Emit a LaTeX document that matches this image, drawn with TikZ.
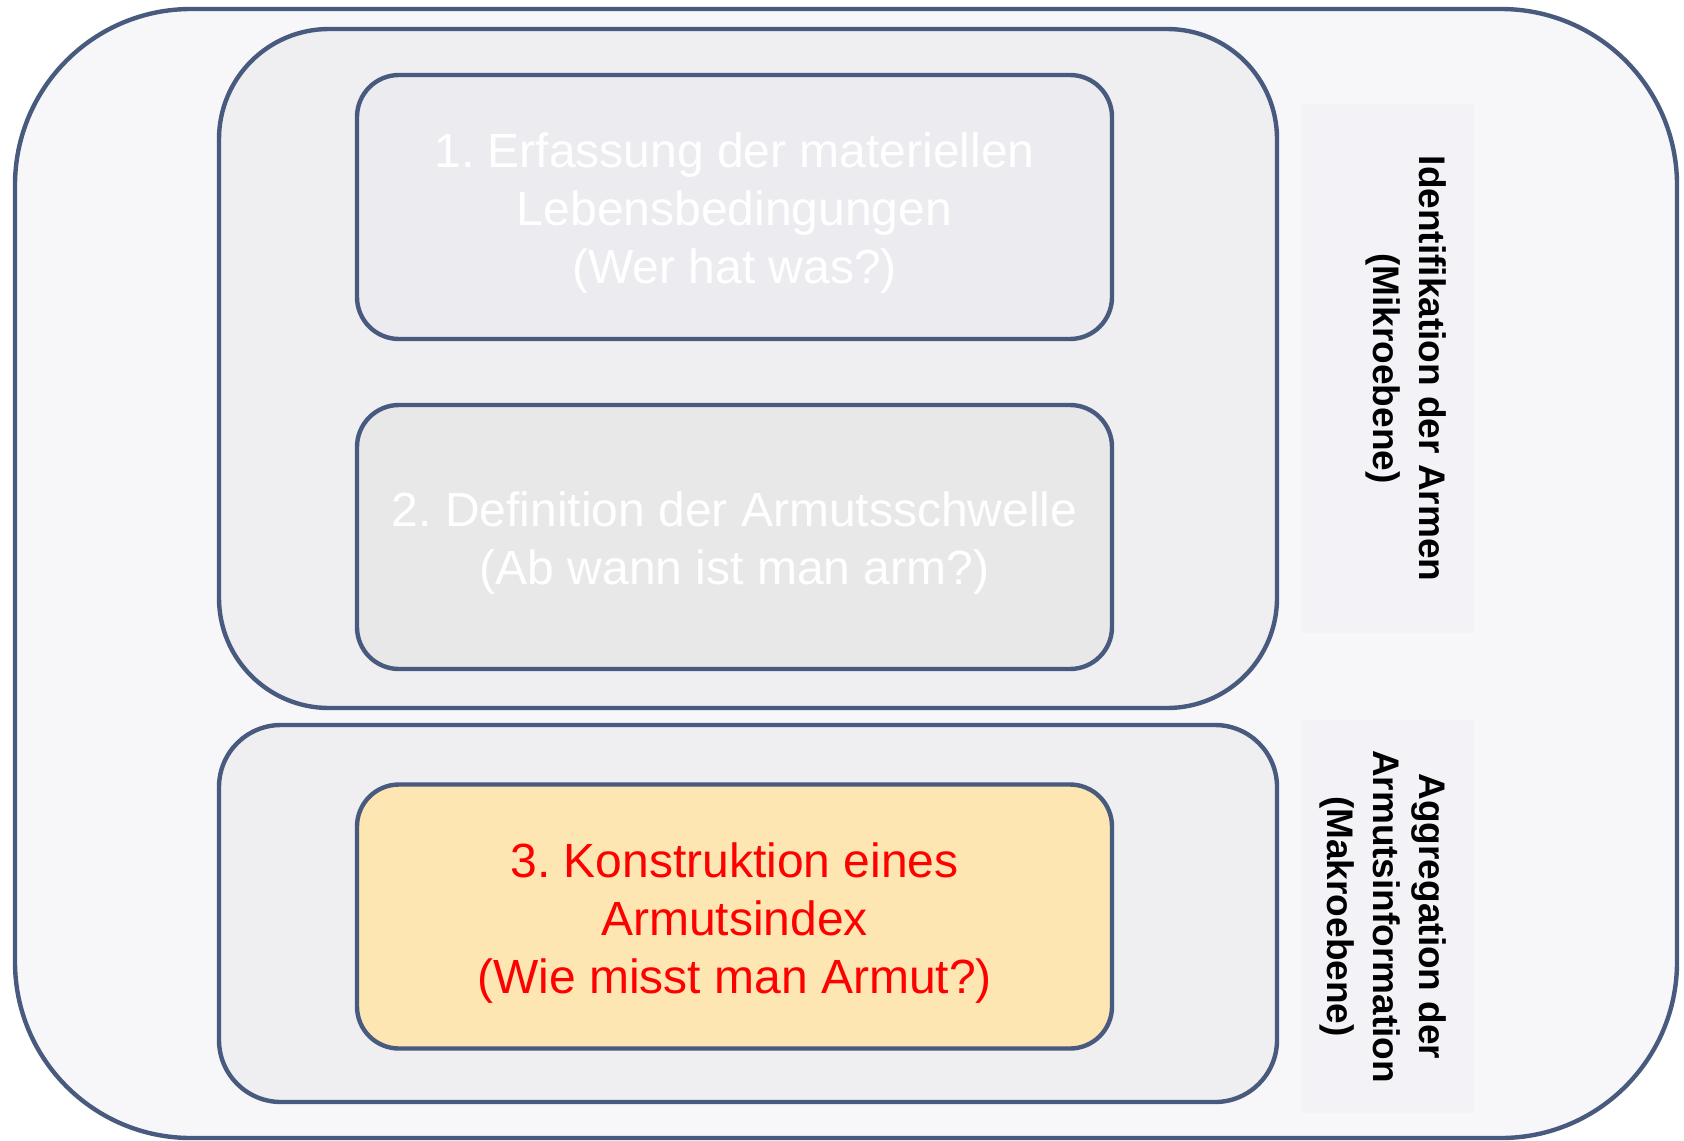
\documentclass[tikz,border=0pt]{standalone}
\usepackage{fontspec}
\setmainfont{Liberation Sans}
\frenchspacing
\definecolor{bordercol}{HTML}{485A7E}
\definecolor{outerfill}{HTML}{F7F7FA}
\definecolor{groupfill}{HTML}{EFEFF2}
\definecolor{boxonefill}{HTML}{ECECF0}
\definecolor{boxtwofill}{HTML}{E8E8E8}
\definecolor{boxthreefill}{HTML}{FDE6B2}
\definecolor{panelfill}{HTML}{F3F3F7}
\definecolor{redtext}{HTML}{FF0000}
\begin{document}
\begin{tikzpicture}[x=0.5pt,y=-0.5pt,
  frame/.style={draw=bordercol, line width=2.2pt, rectangle, inner sep=0pt, outer sep=0pt},
  stepbox/.style={frame, rounded corners=21pt, minimum width=377.5pt, minimum height=132pt},
  steptext/.style={align=center, inner sep=0pt, font=\fontsize{24pt}{29pt}\selectfont},
  panel/.style={fill=panelfill, rectangle, inner sep=0pt, outer sep=0pt, minimum width=86.5pt},
  sidelabel/.style={rotate=-90, anchor=north, align=center, inner sep=0pt,
    font=\fontsize{18.5pt}{23pt}\selectfont\bfseries}]
\useasboundingbox (0,0) rectangle (1684,1140);
% outer container
\node[frame, fill=outerfill, rounded corners=88pt, minimum width=831pt, minimum height=564.5pt] (outer) at (846,573.5) {};
% groups
\node[frame, fill=groupfill, rounded corners=55pt, minimum width=529pt, minimum height=339.5pt] (gone) at (748,368.5) {};
\node[frame, fill=groupfill, rounded corners=31pt, minimum width=529pt, minimum height=188.5pt] (gtwo) at (748,913.5) {};
% steps
\node[stepbox, fill=boxonefill] (sone) at (734.5,207) {};
\node[stepbox, fill=boxtwofill] (stwo) at (734.5,537) {};
\node[stepbox, fill=boxthreefill] (sthree) at (734.5,916.5) {};
\node[steptext, text=white] (tone) at ([yshift=-3.2pt]sone.center) {1. Erfassung der materiellen\\Lebensbedingungen\\(Wer hat was?)};
\node[steptext, text=white] (ttwo) at ([yshift=-2.8pt]stwo.center) {2. Definition der Armutsschwelle\\(Ab wann ist man arm?)};
\node[steptext, text=redtext] (tthree) at ([yshift=-3.2pt]sthree.center) {3. Konstruktion eines\\Armutsindex\\(Wie misst man Armut?)};
% side panels
\node[panel, minimum height=264.5pt] (pone) at (1387.5,368.5) {};
\node[panel, minimum height=196.5pt] (ptwo) at (1387.5,916.5) {};
\node[sidelabel] (lone) at (1447,368.5) {Identifikation der Armen\\(Mikroebene)};
\node[sidelabel] (ltwo) at (1447,916.5) {Aggregation der\\Armutsinformation\\(Makroebene)};
\end{tikzpicture}
\end{document}
